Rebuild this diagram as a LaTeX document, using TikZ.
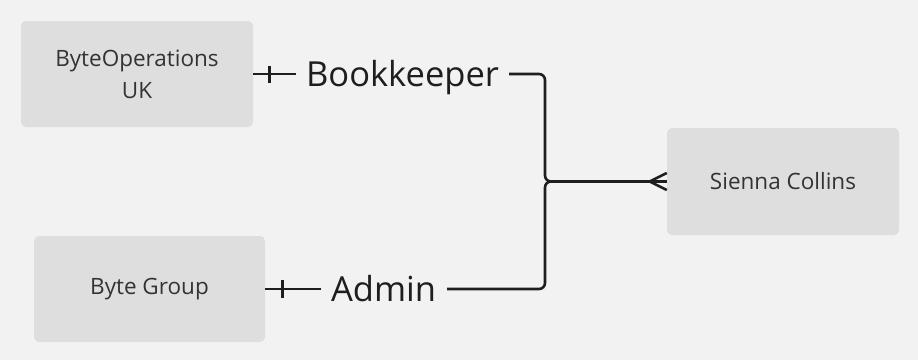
\documentclass[tikz,border=0pt]{standalone}
\usepackage{fontspec}
\setmainfont{Open Sans}
\usetikzlibrary{calc}
\definecolor{bg}{HTML}{F2F2F2}
\definecolor{boxfill}{HTML}{DEDEDE}
\definecolor{boxtext}{HTML}{333333}
\definecolor{ink}{HTML}{1E1E1E}
\tikzset{
  entity/.style={fill=boxfill, draw=none, rounded corners=5pt, minimum width=232pt, minimum height=106pt,
    align=center, text=boxtext, font=\fontsize{22.5}{32}\selectfont, inner sep=0pt},
  rolelabel/.style={text=ink, font=\fontsize{34.5}{40}\selectfont, inner sep=0pt, anchor=base},
  conn/.style={draw=ink, line width=2.6pt},
}
\begin{document}
\begin{tikzpicture}[x=1pt,y=1pt]
\fill[bg] (0,0) rectangle (918,360);
\useasboundingbox (0,0) rectangle (918,360);
\node[entity] (a) at (137,286) {ByteOperations\\UK};
\node[entity, minimum width=231pt] (b) at (149.5,71) {Byte Group};
\node[entity, minimum height=107pt] (c) at (783,178.5) {Sienna Collins};
\node[rolelabel] (l1) at (402.5,274) {Bookkeeper};
\node[rolelabel] (l2) at (383.5,58.5) {Admin};
\coordinate (j) at (545,178.5);
% left segments with one-bar marks
\draw[conn] (a.east) -- ([xshift=-10pt]a.east -| l1.west);
\draw[conn] ([xshift=16pt]a.east) ++(0,-8.5) -- ++(0,17);
\draw[conn] (b.east) -- ([xshift=-10pt]b.east -| l2.west);
\draw[conn] ([xshift=17pt]b.east) ++(0,-9) -- ++(0,18);
% right segments to the junction
\draw[conn, rounded corners=6pt] ([xshift=10pt]a.east -| l1.east) -| (j) -- (c.west);
\draw[conn, rounded corners=6pt] ([xshift=11pt]b.east -| l2.east) -| (j) -- (c.west);
% crow's foot
\draw[conn, line join=round] ([yshift=8.5pt]c.west) -- ([xshift=-17pt]c.west) -- ([yshift=-8.5pt]c.west);
\end{tikzpicture}
\end{document}
